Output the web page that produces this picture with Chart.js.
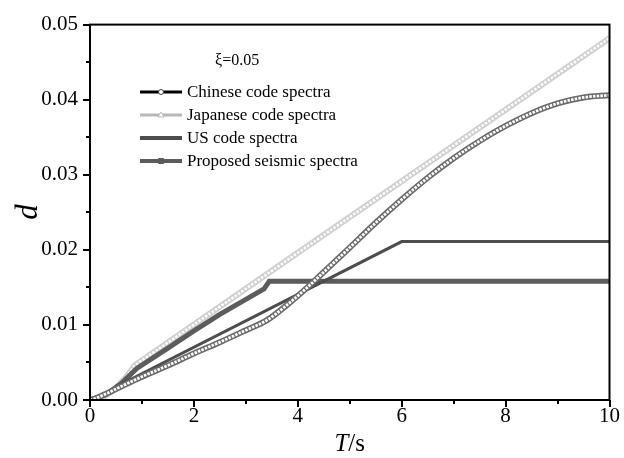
<!DOCTYPE html>
<html>
<head>
<meta charset="utf-8">
<script src="https://cdn.jsdelivr.net/npm/chart.js@4/dist/chart.umd.min.js"></script>
<style>
  html, body { margin: 0; padding: 0; background: #fff; }
  #wrap { width: 624px; height: 458px; position: relative; }
</style>
</head>
<body>
<div id="wrap"><canvas id="c" width="624" height="458"></canvas></div>
<script>
// Displacement response spectra, damping ratio 0.05
const seriesNames = ['Chinese code spectra', 'Japanese code spectra', 'US code spectra', 'Proposed seismic spectra'];

const chineseT = [0, 0.1, 0.3, 0.6, 1.0, 1.5, 2.0, 2.5, 3.0, 3.4, 3.8, 4.2, 4.6, 5.0, 5.5, 6.0, 6.5, 7.0, 7.5, 8.0, 8.5, 9.0, 9.5, 10];
const chineseD = [0, 0.0002, 0.0008, 0.0018, 0.0031, 0.0046, 0.0062, 0.0077, 0.0093, 0.0106, 0.0127, 0.0151, 0.0177, 0.0203, 0.0236, 0.0267, 0.0296, 0.0322, 0.0345, 0.0365, 0.0382, 0.0395, 0.0403, 0.0406];

const japaneseT = [0, 0.16, 0.3, 0.5, 0.7, 0.86, 4.0, 10];
const japaneseD = [0, 0.0002, 0.0006, 0.0016, 0.0031, 0.0046, 0.0196, 0.0482];

const usT = [0, 0.12, 0.3, 0.45, 0.6, 6.0, 10];
const usD = [0, 0.0002, 0.0007, 0.0013, 0.0021, 0.0211, 0.0211];

const proposedT = [0, 0.3, 0.6, 0.9, 1.5, 2.0, 2.5, 3.0, 3.35, 3.4, 3.45, 10];
const proposedD = [0, 0.0007, 0.0022, 0.0042, 0.0069, 0.0092, 0.0114, 0.0134, 0.0148, 0.0153, 0.0158, 0.0158];

const xTicks = [0, 2, 4, 6, 8, 10];
const yTicks = [0.00, 0.01, 0.02, 0.03, 0.04, 0.05];
const dampingLabel = 'ξ=0.05';

const pts = (xs, ys) => xs.map((x, i) => ({ x: x, y: ys[i] }));

const SERIF = '"Liberation Serif", "DejaVu Serif", serif';

const datasets = [
  { label: seriesNames[0], data: pts(chineseT, chineseD), borderColor: '#6a6a6a', borderWidth: 6,
    cubicInterpolationMode: 'monotone', order: 2, legendStyle: { color: '#000', width: 3, marker: 'circle', mStroke: '#444' } },
  { label: seriesNames[0] + ' (ring)', data: pts(chineseT, chineseD), borderColor: '#ffffff', borderWidth: 2.8,
    borderDash: [2.5, 1.2], cubicInterpolationMode: 'monotone', order: 1, helper: true },
  { label: seriesNames[1], data: pts(japaneseT, japaneseD), borderColor: '#cfcfcf', borderWidth: 6,
    order: 8, legendStyle: { color: '#b8b8b8', width: 3, marker: 'triangle', mStroke: '#bbb' } },
  { label: seriesNames[1] + ' (ring)', data: pts(japaneseT, japaneseD), borderColor: '#ffffff', borderWidth: 2.5,
    borderDash: [2.5, 1.5], order: 7, helper: true },
  { label: seriesNames[2], data: pts(usT, usD), borderColor: '#4d4d4d', borderWidth: 3,
    order: 4, legendStyle: { color: '#4d4d4d', width: 4 } },
  { label: seriesNames[3], data: pts(proposedT, proposedD), borderColor: '#5c5c5c', borderWidth: 5,
    order: 6, legendStyle: { color: '#5c5c5c', width: 4, marker: 'square', mStroke: '#5c5c5c' } }
];
datasets.forEach(d => { d.pointRadius = 0; d.fill = false; d.tension = 0; });

// frame, tick marks, axis titles and in-plot legend
const decorations = {
  id: 'decorations',
  afterDraw(chart) {
    const ctx = chart.ctx;
    const a = chart.chartArea;
    const xs = chart.scales.x, ys = chart.scales.y;
    ctx.save();
    ctx.strokeStyle = '#000';
    ctx.lineWidth = 2;
    ctx.strokeRect(a.left, a.top, a.right - a.left, a.bottom - a.top);

    ctx.lineWidth = 2;
    ctx.beginPath();
    for (let v = 0; v <= 10; v += 1) {
      const px = Math.round(xs.getPixelForValue(v));
      const len = v % 2 === 0 ? 7 : 4;
      ctx.moveTo(px, a.bottom);
      ctx.lineTo(px, a.bottom + len);
    }
    for (let k = 0; k <= 10; k++) {
      const py = Math.round(ys.getPixelForValue(k * 0.005));
      const len = k % 2 === 0 ? 7 : 4;
      ctx.moveTo(a.left, py);
      ctx.lineTo(a.left - len, py);
    }
    ctx.stroke();

    // axis titles
    ctx.fillStyle = '#000';
    ctx.textBaseline = 'alphabetic';
    const tFont = 'italic 25px ' + SERIF;
    const sFont = '25px ' + SERIF;
    ctx.font = tFont;
    const wT = ctx.measureText('T').width;
    ctx.font = sFont;
    const wS = ctx.measureText('/s').width;
    const cx = (a.left + a.right) / 2;
    const x0 = cx - (wT + wS) / 2;
    ctx.font = tFont;
    ctx.fillText('T', x0, 451);
    ctx.font = sFont;
    ctx.fillText('/s', x0 + wT, 451);

    ctx.save();
    ctx.translate(29, 212);
    ctx.rotate(-Math.PI / 2);
    ctx.font = 'italic 31px ' + SERIF;
    ctx.textAlign = 'center';
    ctx.textBaseline = 'middle';
    ctx.fillText('d', 0, 0);
    ctx.restore();

    // damping note
    ctx.font = '16px ' + SERIF;
    ctx.textAlign = 'left';
    ctx.textBaseline = 'middle';
    ctx.fillText(dampingLabel, 215, 61);

    // legend
    const items = chart.data.datasets.filter(d => !d.helper);
    items.forEach((d, i) => {
      const y = 92 + 23 * i;
      const st = d.legendStyle;
      ctx.strokeStyle = st.color;
      ctx.lineWidth = st.width;
      ctx.beginPath();
      ctx.moveTo(140, y);
      ctx.lineTo(182, y);
      ctx.stroke();
      if (st.marker) {
        ctx.lineWidth = 1;
        ctx.strokeStyle = st.mStroke;
        ctx.fillStyle = st.marker === 'square' ? st.mStroke : '#fff';
        ctx.beginPath();
        if (st.marker === 'circle') ctx.arc(161, y, 2.5, 0, Math.PI * 2);
        if (st.marker === 'triangle') { ctx.moveTo(161, y - 3); ctx.lineTo(164, y + 2); ctx.lineTo(158, y + 2); ctx.closePath(); }
        if (st.marker === 'square') ctx.rect(158.5, y - 2.5, 5, 5);
        ctx.fill();
        ctx.stroke();
      }
      ctx.fillStyle = '#000';
      ctx.font = '17px ' + SERIF;
      ctx.fillText(d.label, 187, y + 1);
    });
    ctx.restore();
  }
};

new Chart(document.getElementById('c'), {
  type: 'line',
  data: { datasets: datasets },
  options: {
    responsive: false,
    animation: false,
    devicePixelRatio: 1,
    layout: { padding: { top: 18, right: 14, left: 0, bottom: 0 } },
    plugins: { legend: { display: false }, tooltip: { enabled: false }, title: { display: false } },
    scales: {
      x: {
        type: 'linear', min: 0, max: 10,
        afterBuildTicks: s => { s.ticks = xTicks.map(v => ({ value: v })); },
        ticks: { font: { family: SERIF, size: 21 }, color: '#000', padding: 4, maxRotation: 0, autoSkip: false,
                 callback: v => String(v) },
        grid: { display: false, drawTicks: false },
        border: { display: false },
        afterFit: s => { s.height = 58; }
      },
      y: {
        type: 'linear', min: 0, max: 0.05,
        afterBuildTicks: s => { s.ticks = yTicks.map(v => ({ value: v })); },
        ticks: { font: { family: SERIF, size: 21 }, color: '#000', padding: 12, autoSkip: false,
                 callback: v => v.toFixed(2) },
        grid: { display: false, drawTicks: false },
        border: { display: false },
        afterFit: s => { s.width = 90; }
      }
    }
  },
  plugins: [decorations]
});
</script>
</body>
</html>
